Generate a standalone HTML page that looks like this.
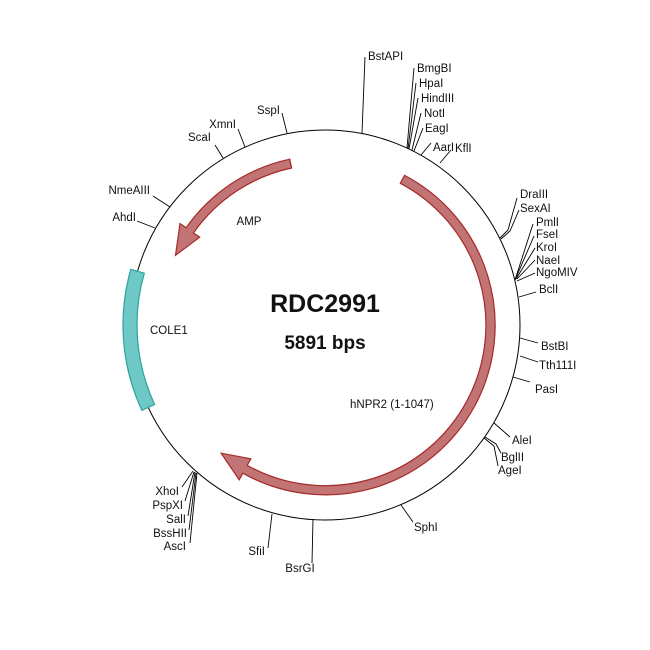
<!DOCTYPE html>
<html><head><meta charset="utf-8"><style>
html,body{margin:0;padding:0;background:#fff}
svg{display:block}
text{font-family:"Liberation Sans",Arial,sans-serif;font-size:11.5px;fill:#111}
</style></head><body>
<svg width="650" height="650" viewBox="0 0 650 650" xmlns="http://www.w3.org/2000/svg">
<rect width="650" height="650" fill="#fff"/>
<circle cx="325" cy="325" r="195" fill="none" stroke="#000" stroke-width="1"/>
<!-- COLE1 -->
<path d="M141.93,410.37 A202,202 0 0 1 130.82,269.33 L144.28,273.19 A188,188 0 0 0 154.62,404.45 Z" fill="#6ec9c6" stroke="#2aa3a0" stroke-width="1.2"/>
<!-- AMP -->
<path d="M289.76,159.21 A169.5,169.5 0 0 0 186.15,227.77 L180.0,223.5 L175.5,255.3 L199.7,237.2 L193.52,232.94 A160.5,160.5 0 0 1 291.63,168.01 Z" fill="#c27373" stroke="#a52a2a" stroke-width="1.2"/>
<!-- hNPR2 -->
<path d="M404.58,175.35 A169.5,169.5 0 1 1 242.83,473.24 L239.19,479.80 L221.17,453.22 L250.83,458.81 L247.19,465.37 A160.5,160.5 0 1 0 400.35,183.29 Z" fill="#c27373" stroke="#a52a2a" stroke-width="1.2"/>

<g stroke="#000" stroke-width="0.9" fill="none">
<path d="M362,133 L365,57"/>
<path d="M407,148 L414,68"/>
<path d="M408,149 L416,83"/>
<path d="M409,149 L418,98"/>
<path d="M412,150 L421,113"/>
<path d="M414,151 L423,128"/>
<path d="M421,155 L431,143"/>
<path d="M440,163 L451,150"/>
<path d="M500,238 L508,230 L517,198"/>
<path d="M501,239 L510,231 L519,210"/>
<path d="M515,280 L533,224"/>
<path d="M515,280 L534,236"/>
<path d="M516,279 L535,248"/>
<path d="M517,279 L535,260"/>
<path d="M517,281 L535,273"/>
<path d="M519,297 L536,292"/>
<path d="M520,338 L538,343"/>
<path d="M520,356 L538,362"/>
<path d="M513,377 L530,382"/>
<path d="M494,423 L510,437"/>
<path d="M485,437 L496,444 L501,453"/>
<path d="M484,438 L494,446 L498,466"/>
<path d="M193,471 L182,487"/>
<path d="M194,472 L185,501"/>
<path d="M195,472 L188,516"/>
<path d="M196,473 L189,530"/>
<path d="M197,473 L190,543"/>
<path d="M272,514 L268,548"/>
<path d="M313,519 L312,563"/>
<path d="M401,505 L413,522"/>
<path d="M155,228 L137,221"/>
<path d="M170,207 L153,196"/>
<path d="M223,158 L215,145"/>
<path d="M245,147 L238,129"/>
<path d="M287,133 L282,113"/>
</g>

<text x="368" y="60">BstAPI</text>
<text x="417" y="72">BmgBI</text>
<text x="419" y="87">HpaI</text>
<text x="421" y="102">HindIII</text>
<text x="424" y="117">NotI</text>
<text x="425" y="132">EagI</text>
<text x="433" y="151">AarI</text>
<text x="455" y="152">KflI</text>
<text x="520" y="198">DraIII</text>
<text x="520" y="212">SexAI</text>
<text x="536" y="226">PmlI</text>
<text x="536" y="238">FseI</text>
<text x="536" y="251">KroI</text>
<text x="536" y="264">NaeI</text>
<text x="536" y="276">NgoMIV</text>
<text x="539" y="293">BclI</text>
<text x="541" y="350">BstBI</text>
<text x="539" y="369">Tth111I</text>
<text x="535" y="393">PasI</text>
<text x="512" y="444">AleI</text>
<text x="501" y="461">BglII</text>
<text x="498" y="474">AgeI</text>
<text x="414" y="531">SphI</text>
<text x="300" y="572" text-anchor="middle">BsrGI</text>
<text x="265" y="555" text-anchor="end">SfiI</text>
<text x="179" y="495" text-anchor="end">XhoI</text>
<text x="183" y="509" text-anchor="end">PspXI</text>
<text x="186" y="523" text-anchor="end">SalI</text>
<text x="187" y="537" text-anchor="end">BssHII</text>
<text x="186" y="550" text-anchor="end">AscI</text>
<text x="136" y="221" text-anchor="end">AhdI</text>
<text x="150" y="194" text-anchor="end">NmeAIII</text>
<text x="211" y="141" text-anchor="end">ScaI</text>
<text x="236" y="128" text-anchor="end">XmnI</text>
<text x="280" y="114" text-anchor="end">SspI</text>

<text x="249" y="225" text-anchor="middle">AMP</text>
<text x="150" y="334">COLE1</text>
<text x="350" y="408">hNPR2 (1-1047)</text>
<text x="325" y="312" text-anchor="middle" style="font-size:25px;font-weight:bold">RDC2991</text>
<text x="325" y="349" text-anchor="middle" style="font-size:19px;font-weight:bold">5891 bps</text>
</svg>
</body></html>
